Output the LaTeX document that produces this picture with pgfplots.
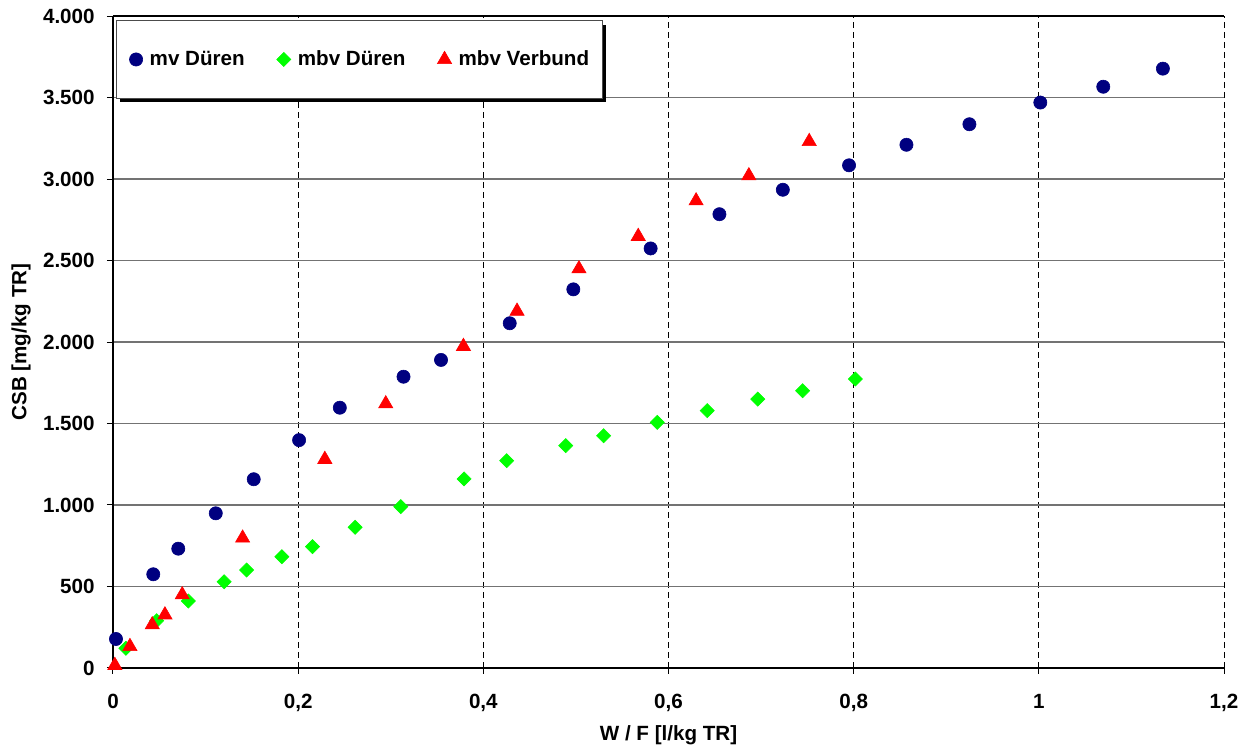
\documentclass[border=0pt]{standalone}
\usepackage{fontspec}
\setmainfont{Liberation Sans}
\usepackage{pgfplots}
\pgfplotsset{compat=1.18}
\usetikzlibrary{shadows}
\definecolor{mvblue}{RGB}{0,0,128}
\definecolor{mbvgreen}{RGB}{0,255,0}
\definecolor{mbvred}{RGB}{255,0,0}
\newcommand{\chartfont}{\fontsize{10.3}{12}\selectfont\bfseries}
\begin{document}
\begin{tikzpicture}
\path[use as bounding box] (-56.5pt,-40.5pt) rectangle (570pt,334pt);
\begin{axis}[
  at={(0,0)}, anchor=south west,
  scale only axis, width=555.5pt, height=326pt,
  xmin=0, xmax=1.2, ymin=0, ymax=4000,
  xtick distance=0.2, ytick distance=500,
  scaled ticks=false,
  axis x line=box, axis y line*=left,
  xtick pos=bottom, ytick pos=left,
  tick align=outside, major tick length=3pt,
  tick style={black, line width=0.5pt},
  axis line style={black, line width=0.6pt},
  xmajorgrids, ymajorgrids,
  x grid style={black, line width=0.5pt, dash pattern=on 3pt off 2pt},
  y grid style={gray!90!black, line width=0.9pt},
  tick label style={font=\chartfont},
  yticklabel style={anchor=east, inner sep=0pt, xshift=-6pt},
  xticklabel style={anchor=north, inner sep=0pt, yshift=-10pt},
  xlabel={W / F [l/kg TR]},
  ylabel={CSB [mg/kg TR]},
  xlabel style={at={(axis description cs:0.5,-0.1028)}, anchor=center, font=\chartfont},
  ylabel style={at={(axis description cs:-0.0828,0.5)}, anchor=center, font=\chartfont},
  legend columns=3,
  legend image code/.code={\draw[#1] plot coordinates {(0pt,0pt)};},
  legend style={at={(0,1)}, anchor=north west, xshift=1.5pt, yshift=-2pt,
    draw=gray!60!black, line width=0.5pt, fill=white,
    drop shadow={shadow xshift=2pt, shadow yshift=-2pt, fill=black, opacity=1},
    inner xsep=6.5pt, inner ysep=15pt, font=\chartfont,
    nodes={inner sep=0pt},
    /tikz/every odd column/.append style={column sep=3.5pt},
    /tikz/every even column/.append style={column sep=16pt}},
  /pgf/number format/use comma,
  /pgf/number format/1000 sep={.},
  /pgf/number format/assume math mode=true,
]
\addplot[only marks, color=mvblue, mark=*, mark size=3.3pt, mark options={solid, fill=mvblue, draw=mvblue, line width=0.3pt}] coordinates {
(0.0032,178) (0.0435,575) (0.0705,732) (0.111,949) (0.152,1158)
(0.201,1398) (0.245,1597) (0.3138,1787) (0.3543,1890) (0.4285,2115)
(0.4972,2323) (0.5807,2574) (0.655,2784) (0.7235,2934) (0.795,3084)
(0.857,3210) (0.925,3336) (1.0016,3469) (1.0696,3566) (1.134,3677)
};
\addlegendentry{mv Düren}
\addplot[only marks, color=mbvgreen, mark=square*, mark size=2.5pt, mark options={solid, rotate=45, fill=mbvgreen, draw=mbvgreen, line width=0.3pt}] coordinates {
(0.014,121) (0.0472,290) (0.0813,411) (0.1201,529) (0.1443,601)
(0.1824,683) (0.2155,744) (0.2615,863) (0.3109,990) (0.3792,1160)
(0.4252,1272) (0.489,1364) (0.5299,1425) (0.5879,1507) (0.6418,1579)
(0.6964,1650) (0.7449,1701) (0.8018,1773)
};
\addlegendentry{mbv Düren}
\addplot[only marks, color=mbvred, mark=triangle*, mark size=4.1pt, mark options={solid, fill=mbvred, draw=mbvred, line width=0.3pt}] coordinates {
(0.002,16) (0.0183,132) (0.0424,265) (0.0561,326) (0.0748,449)
(0.14,797) (0.2288,1280) (0.2946,1621) (0.3785,1973) (0.4364,2189)
(0.5033,2449) (0.5673,2648) (0.6298,2866) (0.6868,3020) (0.752,3230)
};
\addlegendentry{mbv Verbund}
\end{axis}
\end{tikzpicture}
\end{document}
